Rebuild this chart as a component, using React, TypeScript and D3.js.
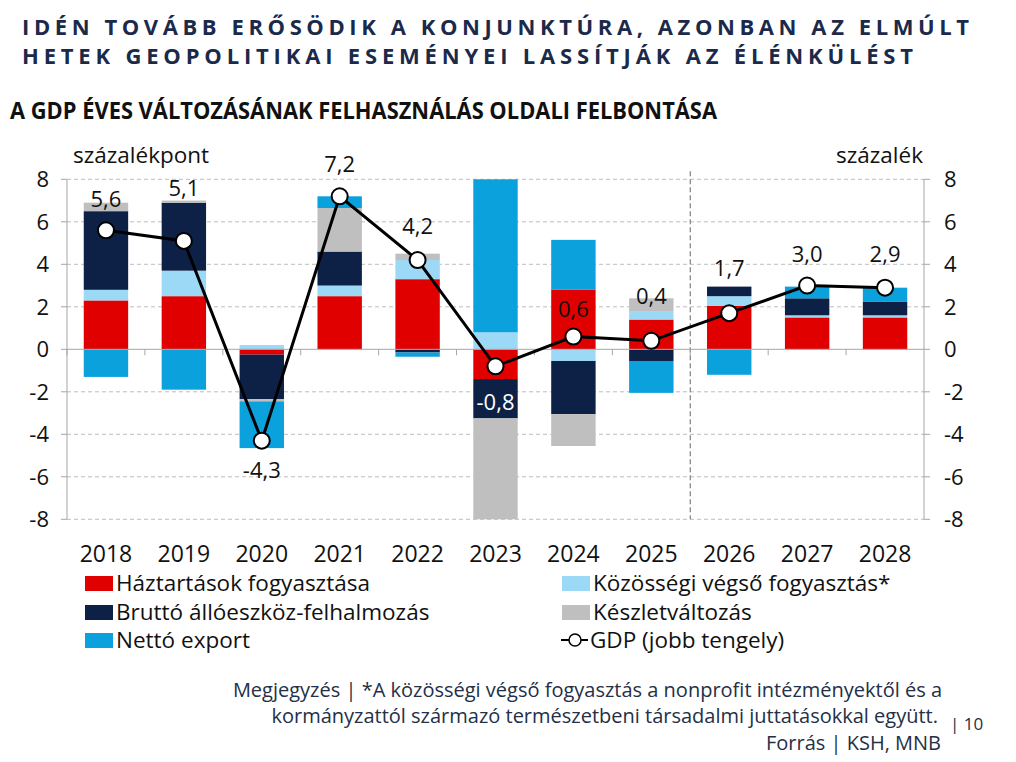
import React from 'react';
import * as d3 from 'd3';

const years = ['2018', '2019', '2020', '2021', '2022', '2023', '2024', '2025', '2026', '2027', '2028'];
const households = [2.3, 2.5, -0.25, 2.5, 3.3, -1.4, 2.8, 1.4, 2.05, 1.5, 1.5];
const government = [0.5, 1.2, 0.2, 0.5, 0.9, 0.8, -0.55, 0.4, 0.45, 0.1, 0.1];
const investment = [3.7, 3.2, -2.1, 1.6, -0.15, -1.85, -2.5, -0.55, 0.45, 0.8, 0.65];
const inventories = [0.4, 0.1, -0.1, 2.05, 0.3, -4.75, -1.5, 0.6, 0, 0, 0];
const netExport = [-1.3, -1.9, -2.2, 0.55, -0.2, 7.2, 2.35, -1.5, -1.2, 0.55, 0.65];
const gdp = [5.6, 5.1, -4.3, 7.2, 4.2, -0.8, 0.6, 0.4, 1.7, 3.0, 2.9];
const yTicks = [-8, -6, -4, -2, 0, 2, 4, 6, 8];

const seriesNames = [
  'Háztartások fogyasztása',
  'Közösségi végső fogyasztás*',
  'Bruttó állóeszköz-felhalmozás',
  'Készletváltozás',
  'Nettó export',
];
const colors = ['#e00000', '#9cd9f6', '#0d2147', '#bfbfbf', '#0aa1dd'];

// label nudges (px) for the GDP value labels
const labelDy = [-31, -53, 30, -32, -34, 36, -27, -45, -45, -31, -33];

const font = '"Open Sans", "Noto Sans", sans-serif';

export default function App() {
  const W = 1016, H = 762;
  const x = d3.scaleBand<string>().domain(years).range([67, 924]).paddingInner(0.43).paddingOuter(0.215);
  const y = d3.scaleLinear().domain([-8, 8]).range([519.3, 179.3]);
  const step = x.step();
  const cx = (i: number) => (x(years[i]) as number) + x.bandwidth() / 2;

  const table = years.map((yr, i) => ({
    year: yr,
    s0: households[i], s1: government[i], s2: investment[i], s3: inventories[i], s4: netExport[i],
  }));
  const keys = ['s0', 's1', 's2', 's3', 's4'];
  const stacked = d3.stack<any>().keys(keys).offset(d3.stackOffsetDiverging)(table);

  const line = d3.line<number>()
    .x((_, i) => cx(i))
    .y(d => y(d));

  const divider = 67 + step * 8;

  const legendItems = [
    { i: 0, x: 85, y: 583 },
    { i: 2, x: 85, y: 612 },
    { i: 4, x: 85, y: 640 },
    { i: 1, x: 562, y: 583 },
    { i: 3, x: 562, y: 612 },
  ];

  return (
    <svg width={W} height={H} style={{ position: 'absolute', left: 0, top: 0, background: '#fff' }} fontFamily={font}>
      {/* titles */}
      <text x={22} y={35} fontSize={22} fontWeight={700} fill="#1b2a4a" textLength={947} lengthAdjust="spacing">
        IDÉN TOVÁBB ERŐSÖDIK A KONJUNKTÚRA, AZONBAN AZ ELMÚLT
      </text>
      <text x={22} y={64} fontSize={22} fontWeight={700} fill="#1b2a4a" textLength={891} lengthAdjust="spacing">
        HETEK GEOPOLITIKAI ESEMÉNYEI LASSÍTJÁK AZ ÉLÉNKÜLÉST
      </text>
      <text x={10} y={119} fontSize={23} fontWeight={700} fill="#111" textLength={707} lengthAdjust="spacingAndGlyphs">
        A GDP ÉVES VÁLTOZÁSÁNAK FELHASZNÁLÁS OLDALI FELBONTÁSA
      </text>

      <text x={73} y={163} fontSize={22.5} fill="#111">százalékpont</text>
      <text x={923} y={163} fontSize={22.5} fill="#111" textAnchor="end">százalék</text>

      {/* gridlines */}
      {yTicks.filter(t => t !== 0).map(t => (
        <line key={t} x1={67} x2={924} y1={y(t)} y2={y(t)} stroke="#bdbdbd" strokeDasharray="4,3" />
      ))}
      <line x1={divider} x2={divider} y1={y(8) - 8} y2={y(-8)} stroke="#7f7f7f" strokeDasharray="5,3" strokeWidth={1.2} />

      {/* bars */}
      {stacked.map((s, si) => (
        <g key={si} fill={colors[si]}>
          {s.map((d, i) => {
            const y0 = Math.max(d[0], d[1]);
            const y1 = Math.min(d[0], d[1]);
            if (y0 === y1) return null;
            return (
              <rect key={i} x={x(years[i])} width={x.bandwidth()} y={y(y0)} height={y(y1) - y(y0)} />
            );
          })}
        </g>
      ))}

      {/* axes */}
      <line x1={67} x2={67} y1={y(8)} y2={y(-8)} stroke="#a6a6a6" />
      <line x1={924} x2={924} y1={y(8)} y2={y(-8)} stroke="#a6a6a6" />
      <line x1={67} x2={924} y1={y(0)} y2={y(0)} stroke="#a6a6a6" />
      {yTicks.map(t => (
        <g key={t}>
          <line x1={61} x2={67} y1={y(t)} y2={y(t)} stroke="#a6a6a6" />
          <line x1={924} x2={930} y1={y(t)} y2={y(t)} stroke="#a6a6a6" />
          <text x={49} y={y(t)} dy="0.35em" fontSize={22} textAnchor="end" fill="#111">{t}</text>
          <text x={944} y={y(t)} dy="0.35em" fontSize={22} fill="#111">{t}</text>
        </g>
      ))}
      {years.map((yr, i) => (
        <g key={yr}>
          <line x1={67 + step * i} x2={67 + step * i} y1={y(0)} y2={y(0) + 6} stroke="#a6a6a6" />
          <text x={cx(i)} y={562} fontSize={23} textAnchor="middle" fill="#111">{yr}</text>
        </g>
      ))}

      {/* GDP line */}
      <path d={line(gdp) as string} fill="none" stroke="#000" strokeWidth={3} />
      {gdp.map((v, i) => (
        <circle key={i} cx={cx(i)} cy={y(v)} r={8} fill="#fff" stroke="#000" strokeWidth={2} />
      ))}
      {gdp.map((v, i) => (
        <text key={i} x={cx(i)} y={y(v) + labelDy[i]} dy="0.35em"
          fontSize={22} textAnchor="middle" fill={i === 5 ? '#fff' : '#111'}>
          {d3.format('.1f')(v).replace('.', ',').replace('−', '-')}
        </text>
      ))}

      {/* legend */}
      {legendItems.map(l => (
        <g key={l.i}>
          <rect x={l.x} y={l.y - 7} width={28} height={15} fill={colors[l.i]} />
          <text x={l.x + 31} y={l.y} dy="0.35em" fontSize={22.5} fill="#111">
            {seriesNames[l.i]}
          </text>
        </g>
      ))}
      <g>
        <line x1={561} x2={588} y1={640} y2={640} stroke="#000" strokeWidth={2} />
        <circle cx={575} cy={640} r={6} fill="#fff" stroke="#000" strokeWidth={1.5} />
        <text x={590} y={640} dy="0.35em" fontSize={22.5} fill="#111">GDP (jobb tengely)</text>
      </g>

      {/* notes */}
      <g fontSize={20} fill="#233047" textAnchor="end">
        <text x={942} y={697}>Megjegyzés | *A közösségi végső fogyasztás a nonprofit intézményektől és a</text>
        <text x={938} y={723}>kormányzattól származó természetbeni társadalmi juttatásokkal együtt.</text>
        <text x={941} y={750}>Forrás | KSH, MNB</text>
      </g>
      <text x={950} y={730} fontSize={17} fill="#233047">| 10</text>
    </svg>
  );
}
